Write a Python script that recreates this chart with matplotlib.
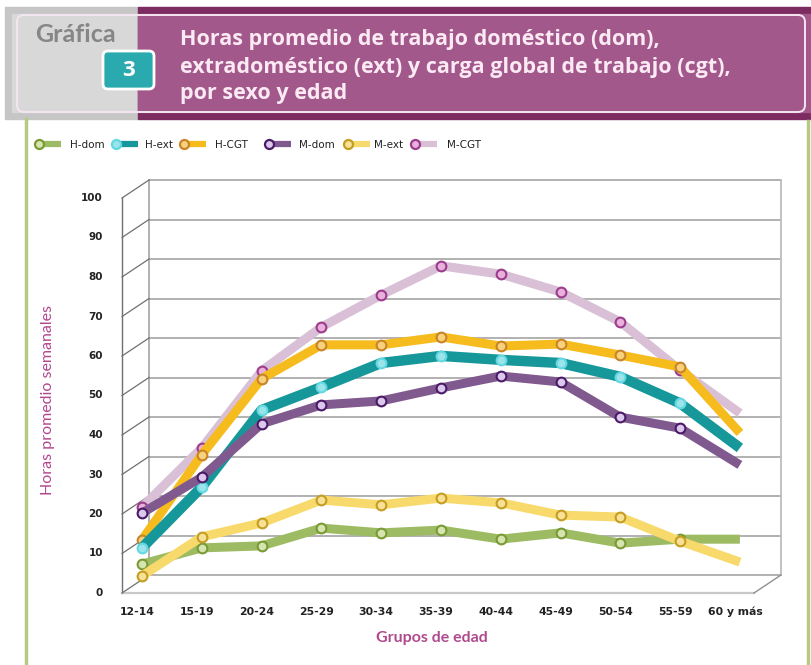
import matplotlib
matplotlib.use("Agg")
import matplotlib.pyplot as plt
import matplotlib.transforms as mtransforms
from matplotlib.patches import FancyBboxPatch, Rectangle
import numpy as np

W, H = 811, 665

grupos = ['12-14', '15-19', '20-24', '25-29', '30-34', '35-39',
          '40-44', '45-49', '50-54', '55-59', '60 y más']

h_dom = [5.3, 9.4, 9.9, 14.4, 13.2, 13.9, 11.6, 13.2, 10.6, 11.6, 11.6]
h_ext = [9.4, 24.8, 44.3, 50.1, 56.2, 58.0, 57.0, 56.2, 52.7, 46.0, 34.7]
h_cgt = [11.4, 33.0, 52.2, 60.8, 60.8, 62.8, 60.5, 61.0, 58.2, 55.2, 38.5]
m_dom = [18.2, 27.3, 40.8, 45.6, 46.6, 49.9, 52.9, 51.4, 42.5, 39.7, 30.4]
m_ext = [2.3, 12.2, 15.7, 21.5, 20.3, 22.0, 20.8, 17.7, 17.2, 11.1, 5.8]
m_cgt = [19.7, 34.7, 54.2, 65.3, 73.4, 80.8, 78.7, 74.2, 66.6, 54.4, 43.5]

y_ticks = list(range(0, 101, 10))

# name, values, line colour, marker edge, marker face, line width
SERIES = [
    ('M-CGT', m_cgt, '#D9C0D6', '#9C3C8C', '#E9B0DC', 6.5),
    ('H-CGT', h_cgt, '#F6BB1C', '#C8842A', '#F7D27A', 6.5),
    ('H-ext', h_ext, '#16989A', '#62D8E2', '#9AE4EA', 7.5),
    ('M-dom', m_dom, '#80598F', '#4B1B68', '#DCC8EC', 6.5),
    ('H-dom', h_dom, '#9DBB62', '#7A9A34', '#D6E4B0', 6.5),
    ('M-ext', m_ext, '#F8DA6C', '#C49E22', '#F8E196', 6.5),
]
LEGEND_ORDER = ['H-dom', 'H-ext', 'H-CGT', 'M-dom', 'M-ext', 'M-CGT']

fig = plt.figure(figsize=(W / 100, H / 100), dpi=100)

# ---- background layer in pixel coordinates (header, frame, legend)
bg = fig.add_axes([0, 0, 1, 1])
bg.set_xlim(0, W)
bg.set_ylim(H, 0)
bg.axis('off')

bg.add_patch(Rectangle((5, 7), 133, 112, color='#C6C6C6', zorder=1))
bg.add_patch(Rectangle((12, 14), 126, 98, color='#D8D8D8', zorder=1))
bg.add_patch(Rectangle((138, 7), 673, 112, color='#7C2C61', zorder=1))
bg.add_patch(Rectangle((138, 14), 673, 98, color='#A3588B', zorder=1))
bg.add_patch(FancyBboxPatch((17, 15), 788, 97, boxstyle='round,pad=0,rounding_size=7',
                            fill=False, ec='#F4E6F0', lw=1.4, zorder=2))
bg.add_patch(FancyBboxPatch((103, 51), 51, 38, boxstyle='round,pad=0,rounding_size=5',
                            fc='#2AAAAE', ec='white', lw=2, zorder=3))
bg.text(128.5, 70, '3', color='white', fontsize=16, fontweight='bold',
        family='Open Sans', ha='center', va='center', zorder=4)
bg.text(35, 34, 'Gráfica', color='#868686', fontsize=18, fontweight='bold',
        family='Lato', ha='left', va='center', zorder=4)
titulo = ['Horas promedio de trabajo doméstico (dom),',
          'extradoméstico (ext) y carga global de trabajo (cgt),',
          'por sexo y edad']
for k, linea in enumerate(titulo):
    bg.text(180, 40 + 27 * k, linea, color='#FBEAF3', fontsize=15.5, fontweight='bold',
            family='Open Sans', ha='left', va='center', zorder=4)

bg.plot([26, 26], [119, H], color='#B8CA80', lw=2.5)
bg.plot([808, 808], [121, H], color='#B8CA80', lw=2.5)

# legend drawn by hand, marker at the left end of a short line
leg_x = [39, 116, 184, 269, 348, 415]
leg_txt = [70, 145, 215, 299, 374, 447]
estilo = {s[0]: s for s in SERIES}
for nombre, x0, xt in zip(LEGEND_ORDER, leg_x, leg_txt):
    _, _, lc, me, mf, lw = estilo[nombre]
    bg.plot([x0, x0 + 22], [144, 144], color=lc, lw=4.5, solid_capstyle='butt')
    bg.plot([x0], [144], marker='o', ms=6.5, mfc=mf, mec=me, mew=1.6)
    bg.text(xt, 144.5, nombre, fontsize=7.5, color='#222222', ha='left', va='center')

# ---- chart axes: middle depth plane of the pseudo 3D chart
ax = fig.add_axes([136 / W, 1 - 585 / H, (768 - 136) / W, (585 - 190) / H])
ax.set_xlim(-0.1, 10.47)
ax.set_ylim(0, 100)
ax.axis('off')
ax.patch.set_alpha(0)

back = mtransforms.offset_copy(ax.transData, fig=fig, x=13, y=10, units='dots')
front = mtransforms.offset_copy(ax.transData, fig=fig, x=-14, y=-8, units='dots')
xlo, xhi = ax.get_xlim()
gcol = '#9C9C9C'
deco = dict(clip_on=False, zorder=1)

for t in y_ticks:
    ax.plot([xlo, xhi], [t, t], transform=back, color=gcol, lw=1.1, **deco)
ax.plot([xlo, xlo], [0, 100], transform=back, color=gcol, lw=1.1, **deco)
ax.plot([xhi, xhi], [0, 100], transform=back, color='#BDBDBD', lw=1.3, **deco)
ax.plot([xlo, xlo], [0, 100], transform=front, color='#707070', lw=1.0, **deco)
ax.plot([xlo, xhi], [0, 0], transform=front, color='#C8C8C8', lw=1.6, **deco)

ident = mtransforms.IdentityTransform()
for t in y_ticks:
    pf = front.transform((xlo, t))
    pb = back.transform((xlo, t))
    ax.plot([pf[0], pb[0]], [pf[1], pb[1]], transform=ident, color='#707070', lw=0.9, **deco)
pf = front.transform((xhi, 0))
pb = back.transform((xhi, 0))
ax.plot([pf[0], pb[0]], [pf[1], pb[1]], transform=ident, color='#909090', lw=1.0, **deco)

ylab = mtransforms.offset_copy(front, fig=fig, x=-19, y=0, units='dots')
for t in y_ticks:
    ax.text(xlo, t, str(t), transform=ylab, ha='right', va='center',
            fontsize=7.5, fontweight='bold', color='#222222')

xlab = mtransforms.offset_copy(front, fig=fig, x=9, y=-19, units='dots')
x = np.arange(len(grupos))
for i, g in enumerate(grupos):
    ax.text(x[i], 0, g, transform=xlab, ha='center', va='center',
            fontsize=7.8, fontweight='bold', color='#222222')

for z, (nombre, vals, lc, me, mf, lw) in enumerate(SERIES):
    ax.plot(x, vals, color=lc, lw=lw, solid_capstyle='butt', solid_joinstyle='round',
            marker='o', ms=7, mfc=mf, mec=me, mew=1.5, markevery=list(range(10)),
            zorder=3 + z, clip_on=False)

fig.text(48 / W, 1 - 400 / H, 'Horas promedio semanales', rotation=90, color='#B4468E',
         fontsize=11.5, family='Lato', ha='center', va='center')
fig.text(432 / W, 1 - 638 / H, 'Grupos de edad', color='#B04A8E',
         fontsize=11.5, fontweight='bold', family='Lato', ha='center', va='center')

fig.savefig('out.png', dpi=100)
